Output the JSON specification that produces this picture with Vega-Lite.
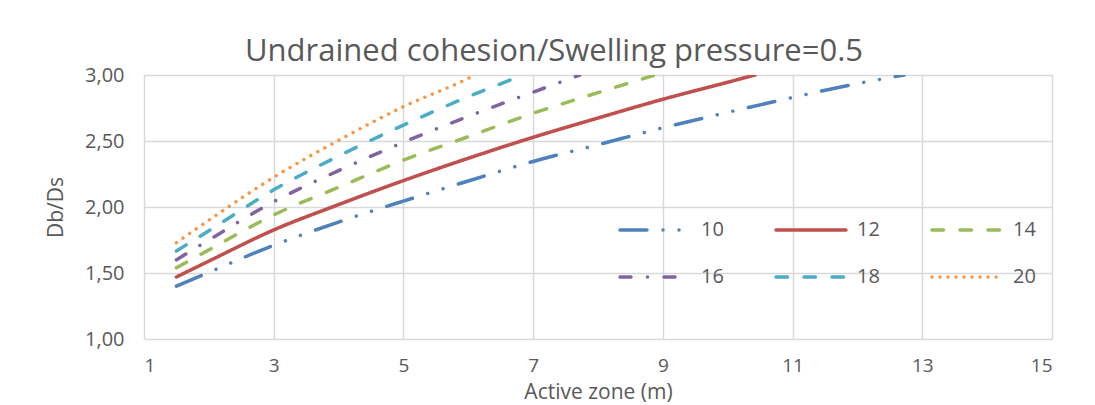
{
  "$schema": "https://vega.github.io/schema/vega-lite/v6.json",
  "width": 908,
  "height": 264,
  "autosize": {"type": "none"},
  "padding": {"left": 144, "top": 75, "right": 43, "bottom": 66},
  "background": "white",
  "title": {
    "text": "Undrained cohesion/Swelling pressure=0.5",
    "fontSize": 31,
    "font": "Open Sans",
    "fontWeight": "normal",
    "color": "#595959",
    "anchor": "middle",
    "frame": "group",
    "dx": -44,
    "offset": -3
  },
  "data": {
    "values": [
      {"s": "10", "x": 1.5, "y": 1.40}, {"s": "10", "x": 2, "y": 1.505}, {"s": "10", "x": 3, "y": 1.71}, {"s": "10", "x": 4, "y": 1.886}, {"s": "10", "x": 5, "y": 2.045}, {"s": "10", "x": 6, "y": 2.197}, {"s": "10", "x": 7, "y": 2.345}, {"s": "10", "x": 8, "y": 2.472}, {"s": "10", "x": 9, "y": 2.60}, {"s": "10", "x": 10, "y": 2.717}, {"s": "10", "x": 11, "y": 2.83}, {"s": "10", "x": 12, "y": 2.935}, {"s": "10", "x": 12.72, "y": 3.0},
      {"s": "12", "x": 1.5, "y": 1.47}, {"s": "12", "x": 2, "y": 1.59}, {"s": "12", "x": 3, "y": 1.826}, {"s": "12", "x": 4, "y": 2.018}, {"s": "12", "x": 5, "y": 2.20}, {"s": "12", "x": 6, "y": 2.369}, {"s": "12", "x": 7, "y": 2.528}, {"s": "12", "x": 8, "y": 2.674}, {"s": "12", "x": 9, "y": 2.816}, {"s": "12", "x": 10, "y": 2.945}, {"s": "12", "x": 10.42, "y": 3.0},
      {"s": "14", "x": 1.5, "y": 1.54}, {"s": "14", "x": 2, "y": 1.675}, {"s": "14", "x": 3, "y": 1.94}, {"s": "14", "x": 4, "y": 2.149}, {"s": "14", "x": 5, "y": 2.355}, {"s": "14", "x": 6, "y": 2.533}, {"s": "14", "x": 7, "y": 2.71}, {"s": "14", "x": 8, "y": 2.866}, {"s": "14", "x": 8.88, "y": 3.0},
      {"s": "16", "x": 1.5, "y": 1.60}, {"s": "16", "x": 2, "y": 1.75}, {"s": "16", "x": 3, "y": 2.04}, {"s": "16", "x": 4, "y": 2.275}, {"s": "16", "x": 5, "y": 2.49}, {"s": "16", "x": 6, "y": 2.687}, {"s": "16", "x": 7, "y": 2.87}, {"s": "16", "x": 7.72, "y": 3.0},
      {"s": "18", "x": 1.5, "y": 1.667}, {"s": "18", "x": 2, "y": 1.82}, {"s": "18", "x": 3, "y": 2.13}, {"s": "18", "x": 4, "y": 2.386}, {"s": "18", "x": 5, "y": 2.62}, {"s": "18", "x": 6, "y": 2.836}, {"s": "18", "x": 6.85, "y": 3.0},
      {"s": "20", "x": 1.5, "y": 1.73}, {"s": "20", "x": 2, "y": 1.90}, {"s": "20", "x": 3, "y": 2.225}, {"s": "20", "x": 4, "y": 2.505}, {"s": "20", "x": 5, "y": 2.76}, {"s": "20", "x": 6, "y": 2.975}, {"s": "20", "x": 6.1, "y": 3.0}
    ]
  },
  "mark": {"type": "line", "interpolate": "monotone", "strokeCap": "round", "clip": true},
  "encoding": {
    "x": {
      "field": "x", "type": "quantitative",
      "scale": {"domain": [1, 15], "nice": false, "zero": false},
      "axis": {"values": [1, 3, 5, 7, 9, 11, 13, 15], "title": "Active zone (m)", "labelPadding": 17, "labelFontSize": 19, "titlePadding": 6, "titleFontSize": 21}
    },
    "y": {
      "field": "y", "type": "quantitative",
      "scale": {"domain": [1, 3], "nice": false, "zero": false},
      "axis": {"values": [1, 1.5, 2, 2.5, 3], "title": "Db/Ds", "labelExpr": "replace(format(datum.value, '.2f'), '.', ',')", "labelPadding": 20, "titlePadding": 18}
    },
    "color": {
      "field": "s", "type": "nominal", "title": null,
      "scale": {"domain": ["10", "12", "14", "16", "18", "20"], "range": ["#4F81BD", "#C0504D", "#9BBB59", "#8064A2", "#4BACC6", "#F79646"]},
      "legend": {"encode": {"symbols": {"update": {"strokeCap": {"value": "round"}}}}}
    },
    "strokeDash": {
      "field": "s", "type": "nominal", "title": null,
      "scale": {"domain": ["10", "12", "14", "16", "18", "20"], "range": [[27, 16, 0.01, 16, 0.01, 16], [1, 0], [11.5, 16.5], [11, 16.5, 0.01, 16.5], [11.5, 16.5], [0.01, 8]]}
    },
    "strokeWidth": {
      "field": "s", "type": "nominal", "title": null,
      "scale": {"domain": ["10", "12", "14", "16", "18", "20"], "range": [3.5, 3.5, 3.5, 3.5, 3.5, 2.8]}
    }
  },
  "config": {
    "view": {"stroke": null},
    "font": "Open Sans",
    "axis": {
      "domain": false,
      "ticks": false,
      "grid": true,
      "gridColor": "#D9D9D9",
      "gridWidth": 1.5,
      "labelFont": "Open Sans",
      "labelFontSize": 20,
      "labelColor": "#595959",
      "titleFont": "Open Sans",
      "titleFontSize": 21,
      "titleFontWeight": "normal",
      "titleColor": "#595959"
    },
    "legend": {
      "orient": "none",
      "legendX": 474,
      "legendY": 118,
      "direction": "horizontal",
      "columns": 3,
      "symbolType": "stroke",
      "symbolSize": 4900,
      "symbolStrokeWidth": 3.5,
      "labelFont": "Open Sans",
      "labelFontSize": 20,
      "labelColor": "#595959",
      "labelOffset": 9,
      "columnPadding": 45,
      "rowPadding": -4,
      "padding": 0
    }
  }
}
